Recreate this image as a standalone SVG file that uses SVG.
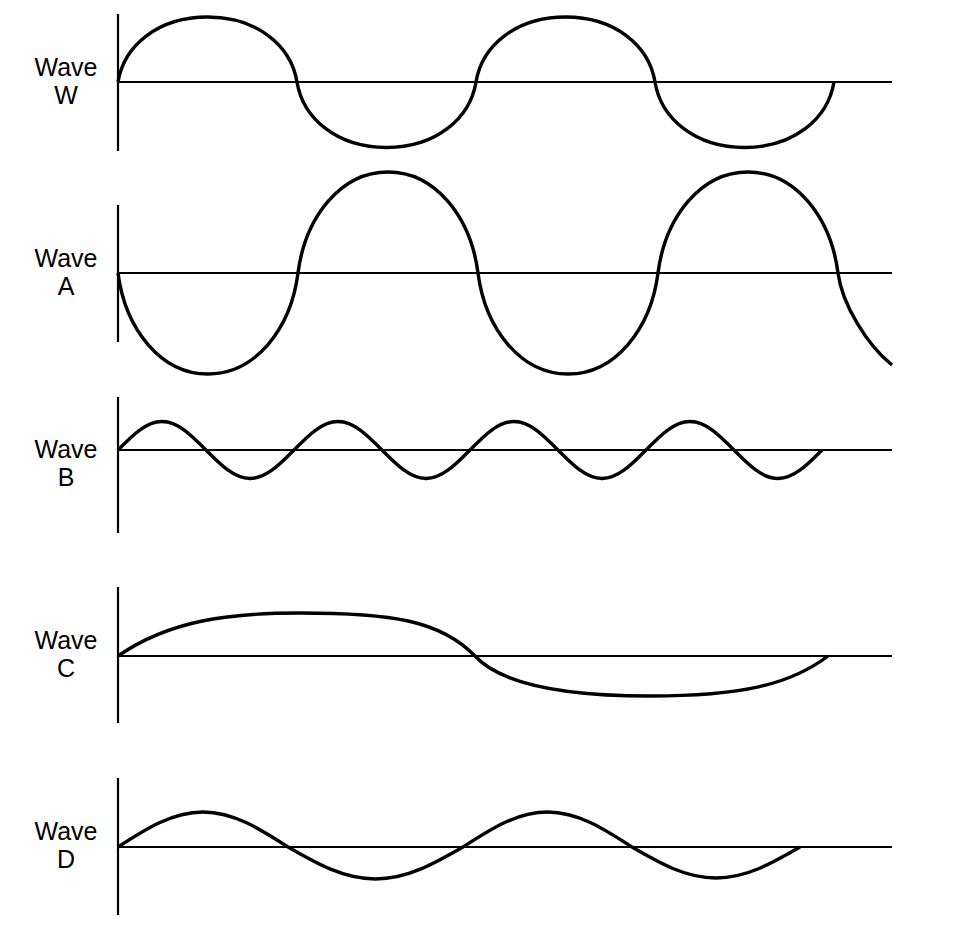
<svg xmlns="http://www.w3.org/2000/svg" width="956" height="932" viewBox="0 0 956 932">
<style>
.ax{stroke:#000;stroke-width:2.2;fill:none}
.wv{stroke:#000;stroke-width:3.4;fill:none;stroke-linecap:butt}
.lb{font-family:"Liberation Sans",Arial,sans-serif;font-size:25px;fill:#000;text-anchor:middle}
</style>
<rect width="956" height="932" fill="#fff"/>
<g id="waveW">
<path class="ax" d="M118,14V151M118,82H892"/>
<path class="wv" d="M118,82c6,-36.5 40,-65 89.5,-65s83.5,28.5 89.5,65c6,36.5 40,65.5 89.5,65.5s83.5,-29 89.5,-65.5c6,-36.5 40,-65 89.5,-65s83.5,28.5 89.5,65c6,36.5 40,65.5 89.5,65.5s83.5,-29 89.5,-65.5"/>
<text class="lb" x="66" y="75.5">Wave</text>
<text class="lb" x="66" y="104">W</text>
</g>
<g id="waveA">
<path class="ax" d="M118,205V342M118,273H892"/>
<path class="wv" d="M118,273c7.2,55.5 42.3,101 90,101s82.8,-45.5 90,-101c7.2,-55.5 42.3,-101 90,-101s82.8,45.5 90,101c7.2,55.5 42.3,101 90,101s82.8,-45.5 90,-101c7.2,-55.5 42.3,-101 90,-101s82.8,45.5 90,101c4,31 29,72 54,92"/>
<text class="lb" x="66" y="266.5">Wave</text>
<text class="lb" x="66" y="295">A</text>
</g>
<g id="waveB">
<path class="ax" d="M118,397V533M118,450H892"/>
<path class="wv" d="M118,450c14.35,-14.6 28.08,-28.5 44,-28.5s29.65,13.9 44,28.5c14.35,14.6 28.08,28.5 44,28.5s29.65,-13.9 44,-28.5c14.35,-14.6 28.08,-28.5 44,-28.5s29.65,13.9 44,28.5c14.35,14.6 28.08,28.5 44,28.5s29.65,-13.9 44,-28.5c14.35,-14.6 28.08,-28.5 44,-28.5s29.65,13.9 44,28.5c14.35,14.6 28.08,28.5 44,28.5s29.65,-13.9 44,-28.5c14.35,-14.6 28.08,-28.5 44,-28.5s29.65,13.9 44,28.5c14.35,14.6 28.08,28.5 44,28.5s29.65,-13.9 44,-28.5"/>
<text class="lb" x="66" y="457.5">Wave</text>
<text class="lb" x="66" y="486">B</text>
</g>
<g id="waveC">
<path class="ax" d="M118,587V723M118,656H892"/>
<path class="wv" d="M118,656C170,620 230,613 300,613C390,613 440,620 475,656C500,683 560,696 650,696C740,696 790,685 828,656"/>
<text class="lb" x="66" y="648.5">Wave</text>
<text class="lb" x="66" y="677">C</text>
</g>
<g id="waveD">
<path class="ax" d="M118,778V915M118,847H892"/>
<path class="wv" d="M118,847c27.7,-17.9 54.2,-35 85,-35s57.3,17.1 85,35c28.5,16.4 55.8,32 87.5,32s59,-15.6 87.5,-32c27.6,-17.9 53.9,-35 84.5,-35s56.9,17.1 84.5,35c27.4,15.9 53.6,31 84,31s56.6,-15.1 84,-31"/>
<text class="lb" x="66" y="839.5">Wave</text>
<text class="lb" x="66" y="868">D</text>
</g>
</svg>
